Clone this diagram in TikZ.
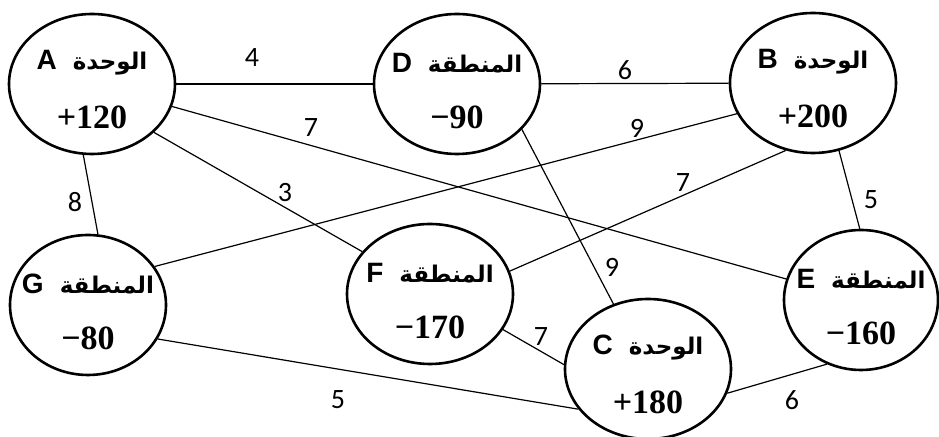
\documentclass[tikz,border=0pt]{standalone}
\usepackage{fontspec}
\usetikzlibrary{shapes.geometric}
\setmainfont{Carlito}
\newfontfamily\arabicfont[Script=Arabic]{DejaVu Sans}
\newfontfamily\letterfont{Liberation Sans}
\newfontfamily\numfont{Liberation Serif}
\TeXXeTstate=1

\tikzset{
  place/.style={ellipse, draw, line width=1.3pt, minimum width=83pt,
    minimum height=70pt, inner sep=0pt},
  nameline/.style={yshift=10.5pt, inner sep=0pt},
  valline/.style={yshift=-16.5pt, inner sep=0pt,
    font=\numfont\bfseries\fontsize{17}{17}\selectfont},
  wt/.style={font=\fontsize{14}{14}\selectfont, inner sep=0pt},
  link/.style={line width=0.6pt}
}
\newcommand{\unitname}[1]{{\letterfont\bfseries\fontsize{14}{14}\selectfont #1}\hspace{8pt}%
  {\arabicfont\bfseries\fontsize{11.5}{12}\selectfont\beginR الوحدة\endR}}
\newcommand{\zonename}[1]{{\letterfont\bfseries\fontsize{14}{14}\selectfont #1}\hspace{8pt}%
  {\arabicfont\bfseries\fontsize{11.5}{12}\selectfont\beginR المنطقة\endR}}

\begin{document}
\begin{tikzpicture}[x=0.5pt, y=-0.5pt]
    \useasboundingbox (0,0) rectangle (939,437);

    \node[place, label={[nameline]center:\unitname{A}},
      label={[valline]center:+120}] (A) at (92,84) {};
    \node[place, label={[nameline]center:\zonename{D}},
      label={[valline]center:−90}] (D) at (457,84) {};
    \node[place, label={[nameline]center:\unitname{B}},
      label={[valline]center:+200}] (B) at (813,83) {};
    \node[place, minimum width=78pt, label={[nameline]center:\zonename{G}},
      label={[valline]center:−80}] (G) at (88,305) {};
    \node[place, label={[nameline]center:\zonename{F}},
      label={[valline]center:−170}] (F) at (430,294) {};
    \node[place, label={[nameline]center:\unitname{C}},
      label={[valline]center:+180}] (C) at (648,369) {};
    \node[place, minimum width=77pt, label={[nameline]center:\zonename{E}},
      label={[valline]center:−160}] (E) at (861,300) {};

    % connectors
    \draw[link] (A) -- (D);
    \draw[link] (D) -- (B);
    \draw[link] (A) -- (E);
    \draw[link] (A.-38) -- (F.148);
    \draw[link] (A.-97) -- (G.82);
    \draw[link] (G.30) -- (B.-158);
    \draw[link] (F.16) -- (B.-112);
    \draw[link] (B.-69) -- (E.91);
    \draw[link] (D.-35) -- (C.118);
    \draw[link] (F.-26) -- (C.177);
    \draw[link] (G.-26) -- (C.-150);
    \draw[link] (C.-17) -- (E.-118);

    % weights
    \node[wt] (wAD) at (252,58) {4};
    \node[wt] (wDB) at (625,70) {6};
    \node[wt] (wAE) at (311,128) {7};
    \node[wt] (wGB) at (637,128) {9};
    \node[wt] (wAG) at (75,202) {8};
    \node[wt] (wAF) at (285,193) {3};
    \node[wt] (wFB) at (683,183) {7};
    \node[wt] (wBE) at (871,200) {5};
    \node[wt] (wDC) at (612,267) {9};
    \node[wt] (wFC) at (541,337) {7};
    \node[wt] (wGC) at (338,400) {5};
    \node[wt] (wCE) at (792,400) {6};
\end{tikzpicture}
\end{document}
